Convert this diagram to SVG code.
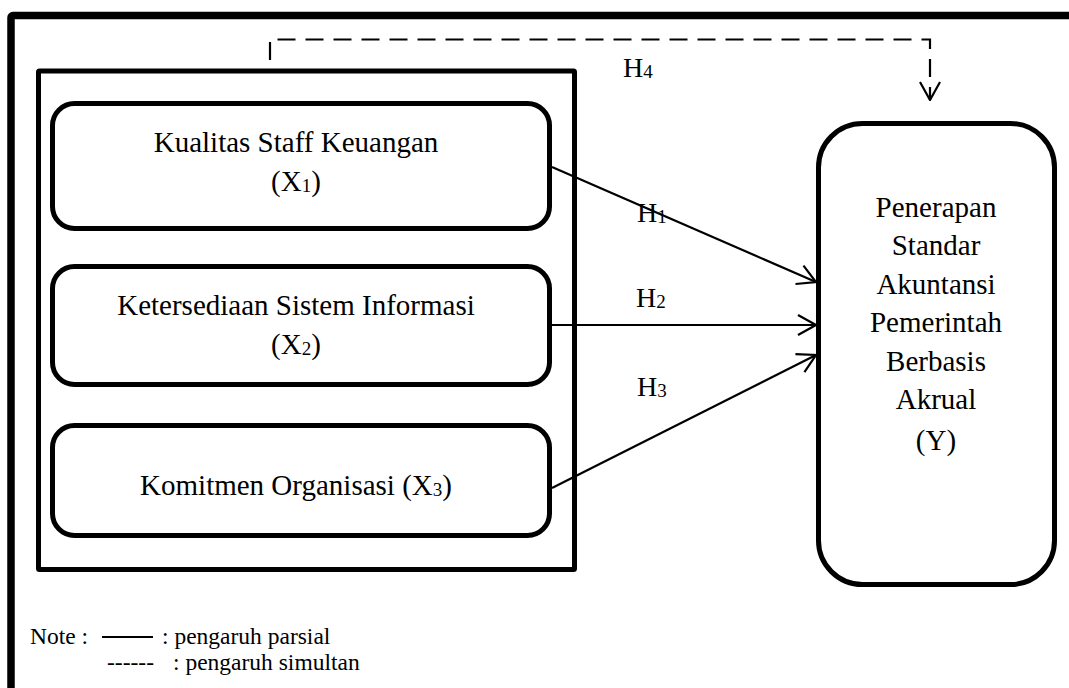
<svg xmlns="http://www.w3.org/2000/svg" width="1069" height="688" viewBox="0 0 1069 688">
<style>
text{font-family:"Liberation Serif","Times New Roman",serif;fill:#000}
.lbl{font-size:29px;text-anchor:middle}
.h{font-size:28px}
.note{font-size:23.5px}
.sub{font-size:19px}
.box{fill:#fff;stroke:#000;stroke-width:5}
.conn{fill:none;stroke:#000;stroke-width:2.2}
</style>
<defs>
<marker id="arr" viewBox="0 0 20 22" refX="19" refY="11" markerWidth="20" markerHeight="22" markerUnits="userSpaceOnUse" orient="auto">
<path d="M1,1 L19,11 L1,21" fill="none" stroke="#000" stroke-width="2.2"/>
</marker>
</defs>
<rect id="frame" x="11" y="15.5" width="1100" height="720" fill="#fff" stroke="#000" stroke-width="7.5" rx="2"/>
<rect id="group-x" x="38.5" y="71" width="536" height="498.5" fill="none" stroke="#000" stroke-width="5" rx="1"/>
<g id="x1">
<rect class="box" x="52.5" y="103.5" width="497" height="125" rx="22"/>
<text class="lbl" x="296" y="152">Kualitas Staff Keuangan</text>
<text class="lbl" x="296" y="191">(X<tspan class="sub" dy="1">1</tspan><tspan dy="-1">)</tspan></text>
</g>
<g id="x2">
<rect class="box" x="52.5" y="266.5" width="497" height="118" rx="22"/>
<text class="lbl" x="296" y="315">Ketersediaan Sistem Informasi</text>
<text class="lbl" x="296" y="354">(X<tspan class="sub" dy="1">2</tspan><tspan dy="-1">)</tspan></text>
</g>
<g id="x3">
<rect class="box" x="52.5" y="425.5" width="497" height="110" rx="22"/>
<text class="lbl" x="296" y="495">Komitmen Organisasi (X<tspan class="sub" dy="1">3</tspan><tspan dy="-1">)</tspan></text>
</g>
<g id="y">
<rect class="box" x="818.5" y="123.5" width="236" height="461" rx="44"/>
<text class="lbl" x="936" y="217">Penerapan</text>
<text class="lbl" x="936" y="255">Standar</text>
<text class="lbl" x="936" y="294">Akuntansi</text>
<text class="lbl" x="936" y="332">Pemerintah</text>
<text class="lbl" x="936" y="371">Berbasis</text>
<text class="lbl" x="936" y="409">Akrual</text>
<text class="lbl" x="936" y="450">(Y)</text>
</g>
<g id="connectors">
<path class="conn" d="M552,167 L816,282" marker-end="url(#arr)"/>
<path class="conn" d="M552,325 L816,325" marker-end="url(#arr)"/>
<path class="conn" d="M552,488 L816,355" marker-end="url(#arr)"/>
<path class="conn" d="M270,60 V39.5 H930 V100" stroke-width="2.5" stroke-dasharray="18,10" marker-end="url(#arr)"/>
</g>
<g id="hyp-labels">
<text class="h" x="623" y="77">H<tspan class="sub" dy="1">4</tspan></text>
<text class="h" x="637" y="222">H<tspan class="sub" dy="1">1</tspan></text>
<text class="h" x="636" y="307">H<tspan class="sub" dy="1">2</tspan></text>
<text class="h" x="637" y="396">H<tspan class="sub" dy="1">3</tspan></text>
</g>
<g id="legend">
<text class="note" x="30" y="644">Note :</text>
<line x1="102" y1="637" x2="153" y2="637" stroke="#000" stroke-width="2.2"/>
<text class="note" x="162" y="644">: pengaruh parsial</text>
<text class="note" x="107" y="670">------</text>
<text class="note" x="173" y="670">: pengaruh simultan</text>
</g>
</svg>
